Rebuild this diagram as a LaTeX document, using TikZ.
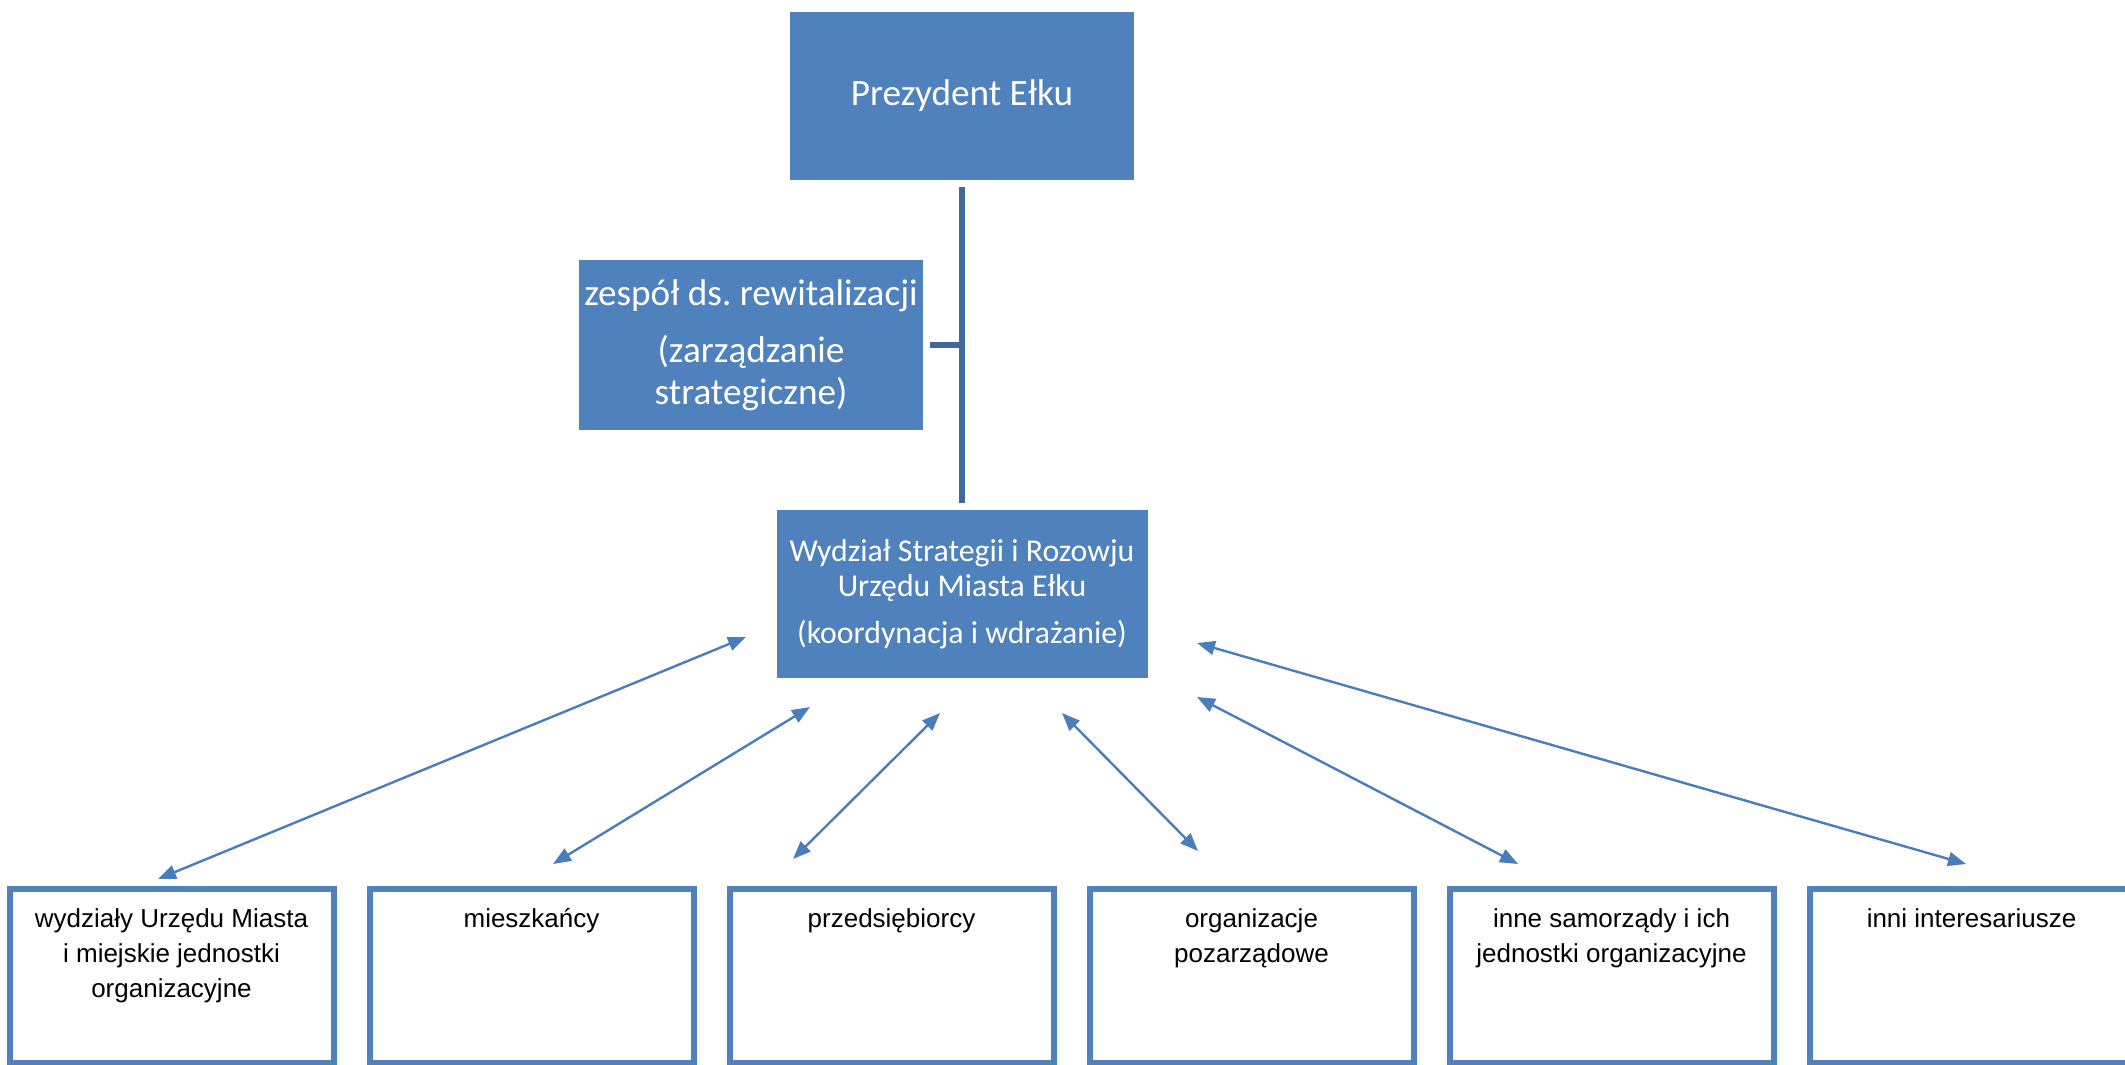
\documentclass[tikz,border=0pt]{standalone}
\usepackage{fontspec}
\setmainfont{Liberation Sans}
\newfontfamily\calibri{Carlito}
\usetikzlibrary{arrows.meta, positioning}
\definecolor{ofblue}{HTML}{4F81BD}
\definecolor{oftrunk}{HTML}{41689B}
\definecolor{oflink}{HTML}{4A7EBB}
\frenchspacing
\tikzset{
  office/.style={
    fill=ofblue, text=white, align=center, font=\calibri\fontsize{18.6}{21}\selectfont,
    inner sep=2pt, minimum width=172pt, minimum height=84pt},
  party/.style={
    draw=ofblue, fill=white, line width=3pt, inner sep=0pt,
    minimum width=162pt, minimum height=87pt},
  partytext/.style={font=\fontsize{13}{17.5}\selectfont, align=center,
    inner sep=0pt, anchor=north, yshift=-11pt},
  trunk/.style={draw=oftrunk, line width=2.7pt},
  link/.style={{Triangle[length=9pt,width=7pt]}-{Triangle[length=9pt,width=7pt]},
    draw=oflink, line width=1.2pt},
}

\begin{document}
\begin{tikzpicture}[x=0.5pt, y=-0.5pt]
  \path[use as bounding box, fill=white] (0,0) rectangle (2125,1065);
  \node[office] (pres) at (962,96) {Prezydent Ełku};
  \node[office, minimum height=85pt] (zesp) at (751,345)
       {zespół ds. rewitalizacji\\[7.5pt](zarządzanie\\strategiczne)};
  \node[office, minimum width=185.5pt, font=\calibri\fontsize{15.9}{17.6}\selectfont] (wyd) at (962,594)
       {Wydział Strategii i Rozowju\\Urzędu Miasta Ełku\\[6pt](koordynacja i wdrażanie)};
  \draw[trunk, shorten <=3.5pt, shorten >=3.5pt] (pres) -- (wyd);
  \draw[trunk, shorten <=3.5pt] (zesp.east) -- (zesp.east -| pres.south);
  % bottom row, the last box runs off the page edge
  \node[party, label={[partytext]north:{wydziały Urzędu Miasta\\i miejskie jednostki\\organizacyjne}}] (b1) at (171.5,976) {};
  \node[party, right=15pt of b1, label={[partytext]north:mieszkańcy}] (b2) {};
  \node[party, right=15pt of b2, label={[partytext]north:przedsiębiorcy}] (b3) {};
  \node[party, right=15pt of b3, label={[partytext]north:{organizacje\\pozarządowe}}] (b4) {};
  \node[party, right=15pt of b4, label={[partytext]north:{inne samorządy i ich\\jednostki organizacyjne}}] (b5) {};
  \node[party, right=15pt of b5, label={[partytext]north:inni interesariusze}] (b6) {};
  % arrow ends stop short of the boxes
  \coordinate (w1) at (746,637);  \coordinate (p1) at (158,879);
  \coordinate (w2) at (810,707);  \coordinate (p2) at (553,864);
  \coordinate (w3) at (940,713);  \coordinate (p3) at (793,859);
  \coordinate (w4) at (1062,713); \coordinate (p4) at (1198,851);
  \coordinate (w5) at (1197,697); \coordinate (p5) at (1518,864);
  \coordinate (w6) at (1197,643); \coordinate (p6) at (1966,864);
  \draw[link] (w1) -- (p1);
  \draw[link] (w2) -- (p2);
  \draw[link] (w3) -- (p3);
  \draw[link] (w4) -- (p4);
  \draw[link] (w5) -- (p5);
  \draw[link] (w6) -- (p6);
\end{tikzpicture}
\end{document}
